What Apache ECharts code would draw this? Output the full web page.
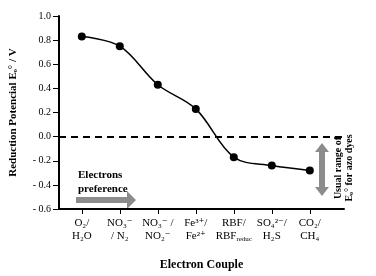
<!DOCTYPE html>
<html>
<head>
<meta charset="utf-8">
<script src="https://cdn.jsdelivr.net/npm/echarts@6/dist/echarts.min.js"></script>
<style>
html, body { margin: 0; padding: 0; background: #fff; }
#main { width: 376px; height: 276px; }
</style>
</head>
<body>
<div id="main"></div>
<script>
//电子对 (x轴类别)
var couples = ['O₂/\nH₂O', 'NO₃⁻\n/ N₂', 'NO₃⁻ /\nNO₂⁻', 'Fe³⁺/\nFe²⁺', 'RBF/\nRBF{s|reduc}', 'SO₄²⁻/\nH₂S', 'CO₂/\nCH₄'];
//还原电位
var potentials = [0.83, 0.75, 0.43, 0.23, -0.17, -0.24, -0.28];
//y轴刻度
var yTicks = [-0.6, -0.4, -0.2, 0.0, 0.2, 0.4, 0.6, 0.8, 1.0];

var serif = '"Liberation Serif", "DejaVu Serif", serif';
var grey = '#8c8c8c';

var points = [];
for (var i = 0; i < potentials.length; i++) {
	points.push([i, potentials[i]]);
}
var tickIdx = couples.map(function(c, i) { return i; });

var chart = echarts.init(document.getElementById('main'));
chart.setOption({
	animation: false,
	backgroundColor: '#fff',
	grid: {
		left: 59,
		top: 16,
		width: 285,
		height: 196
	},
	xAxis: {
		type: 'value',
		min: -0.6,
		max: 6.9,
		name: 'Electron Couple',
		nameLocation: 'middle',
		nameGap: 50,
		nameTextStyle: { fontFamily: serif, fontWeight: 'bold', fontSize: 12, color: '#000' },
		splitLine: { show: false },
		axisLine: { onZero: false, lineStyle: { color: '#000', width: 2 } },
		axisTick: { show: true, customValues: tickIdx, length: 5, lineStyle: { color: '#000', width: 1 } },
		axisLabel: {
			customValues: tickIdx,
			fontFamily: serif,
			fontSize: 11,
			color: '#000',
			lineHeight: 13,
			margin: 8,
			formatter: function(v) { return couples[Math.round(v)]; },
			rich: { s: { fontFamily: serif, fontSize: 7, color: '#000', padding: [5, 0, 0, 0] } }
		}
	},
	yAxis: {
		type: 'value',
		min: yTicks[0],
		max: yTicks[yTicks.length - 1],
		interval: 0.2,
		name: 'Reduction Potencial Eₒ° / V',
		nameLocation: 'middle',
		nameGap: 40,
		nameTextStyle: { fontFamily: serif, fontWeight: 'bold', fontSize: 11, color: '#000' },
		splitLine: { show: false },
		axisLine: { show: true, onZero: false, lineStyle: { color: '#000', width: 2 } },
		axisTick: { show: true, length: 6, lineStyle: { color: '#000', width: 1 } },
		axisLabel: {
			fontFamily: serif,
			fontSize: 10,
			color: '#000',
			margin: 8,
			formatter: function(v) {
				return v < 0 ? '- ' + Math.abs(v).toFixed(1) : v.toFixed(1);
			}
		}
	},
	series: [{
		type: 'line',
		data: points,
		smooth: 0.35,
		symbol: 'circle',
		symbolSize: 8,
		itemStyle: { color: '#000' },
		lineStyle: { color: '#000', width: 1.5 },
		markLine: {
			silent: true,
			symbol: 'none',
			label: { show: false },
			lineStyle: { color: '#000', type: [7, 5], width: 2 },
			data: [{ yAxis: 0 }]
		}
	}],
	graphic: [
		//电子偏好箭头
		{
			type: 'polygon',
			shape: { points: [[76, 197], [127, 197], [127, 191], [136, 200], [127, 209], [127, 203], [76, 203]] },
			style: { fill: grey }
		},
		{
			type: 'text', left: 78, top: 168,
			style: { text: 'Electrons\npreference', font: 'bold 11px ' + serif, fill: '#000', lineHeight: 14 }
		},
		//偶氮染料范围箭头
		{
			type: 'polygon',
			shape: { points: [[322, 143], [329, 152], [325, 152], [325, 187], [329, 187], [322, 196], [315, 187], [319, 187], [319, 152], [315, 152]] },
			style: { fill: grey }
		},
		{
			type: 'text', x: 338, y: 168, rotation: Math.PI / 2,
			style: { text: 'Usual range of', font: 'bold 10px ' + serif, fill: '#000', align: 'center', verticalAlign: 'middle' }
		},
		{
			type: 'text', x: 349, y: 168, rotation: Math.PI / 2,
			style: { text: 'Eₒ° for azo dyes', font: 'bold 10px ' + serif, fill: '#000', align: 'center', verticalAlign: 'middle' }
		}
	]
});
</script>
</body>
</html>
